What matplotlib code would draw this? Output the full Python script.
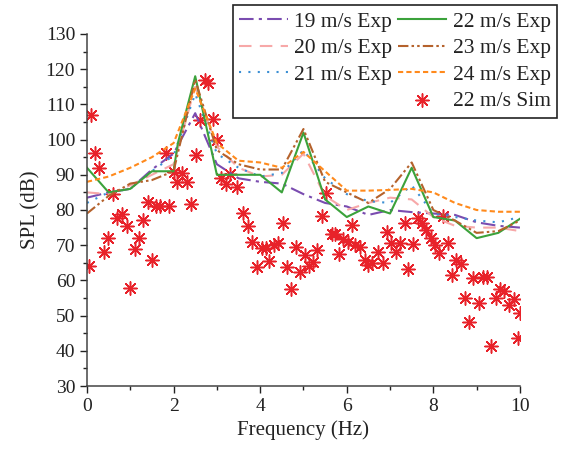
import matplotlib
matplotlib.use("Agg")
import matplotlib.pyplot as plt
from matplotlib.lines import Line2D
from matplotlib.ticker import MultipleLocator

plt.rcParams['font.family'] = ['Liberation Serif', 'DejaVu Serif']

freq = [0, 0.5, 1, 1.5, 2, 2.5, 3, 3.5, 4, 4.5, 5, 5.5, 6, 6.5, 7, 7.5, 8, 8.5, 9, 9.5, 10]

spl_19 = [83.5, 85, 86, 91.5, 96, 107.5, 93, 89, 88, 87.5, 84.5, 82, 81, 78.6, 80, 79.4, 79, 78.6, 76.5, 75.5, 75]
spl_20 = [85, 84.5, 87, 90, 93, 115, 98, 92, 89.5, 90, 96, 84, 80, 82, 83.5, 83, 78, 75.5, 75, 75, 74]
spl_21 = [82, 85, 86, 91, 95.5, 113, 96, 92, 89.5, 90.5, 97, 89, 84.5, 82.5, 82, 87, 79, 78, 77, 76.5, 78]
freq_22 = [0, 0.5, 1, 1.5, 2, 2.1, 2.5, 3, 3.5, 4, 4.5, 5, 5.5, 6, 6.5, 7, 7.5, 8, 8.5, 9, 9.5, 10]
spl_22 = [92, 85, 86, 91, 91, 99, 118, 90, 90, 90, 85, 102, 83, 78, 81, 79, 92, 78, 77, 72, 73.5, 77.5]
spl_23 = [79, 84, 87.5, 88.5, 91, 117, 97, 93, 91.5, 91.5, 103, 88, 85, 82, 86, 93.5, 80, 77, 73.5, 74, 77]
spl_24 = [88, 89.5, 92, 95, 99, 114.5, 99, 94, 93.5, 92, 96.5, 91, 85.5, 85.5, 85.7, 86, 85, 82, 80, 79.5, 79.5]

sim_freq = [0.05, 0.1, 0.18, 0.28, 0.39, 0.49, 0.6, 0.69, 0.8, 0.92, 0.99, 1.11, 1.2, 1.3, 1.4, 1.5,
            1.6, 1.69, 1.82, 1.9, 2.0, 2.08, 2.2, 2.3, 2.4, 2.52, 2.6, 2.72, 2.8, 2.9, 3.0, 3.1,
            3.2, 3.3, 3.46, 3.6, 3.72, 3.81, 3.92, 4.04, 4.13, 4.2, 4.32, 4.41, 4.53, 4.62, 4.71,
            4.83, 4.92, 5.03, 5.13, 5.22, 5.31, 5.43, 5.52, 5.65, 5.73, 5.82, 5.92, 6.02, 6.12,
            6.19, 6.3, 6.42, 6.5, 6.58, 6.72, 6.84, 6.93, 7.02, 7.13, 7.23, 7.34, 7.41, 7.53,
            7.64, 7.74, 7.83, 7.94, 8.04, 8.13, 8.22, 8.34, 8.43, 8.52, 8.64, 8.73, 8.82, 8.92,
            9.05, 9.14, 9.24, 9.33, 9.44, 9.54, 9.63, 9.75, 9.86, 9.95, 10.0]
sim_spl = [64, 107, 96.2, 92, 68, 72, 84.5, 77.7, 79, 75.5, 57.8, 69, 72, 77.2, 82.3, 65.8,
           81, 81, 96.2, 81.1, 90.8, 88, 90.5, 88, 81.7, 95.6, 105.6, 117, 116, 105.8, 99.8, 89,
           87.5, 90.2, 86.5, 79.1, 75.5, 71, 63.9, 69.2, 69.2, 65.5, 70, 70.6, 76.3, 63.9, 57.5,
           69.5, 62.4, 67.2, 64.2, 65.2, 68.6, 78.3, 84.8, 73.2, 73.2, 67.5, 71.8, 70.9, 75.7,
           70, 69.5, 65.8, 64.4, 64.9, 68, 65, 73.7, 70.6, 68, 70.6, 76.3, 63.2, 70.3,
           77.7, 76.3, 74.3, 72, 70, 67.8, 78.3, 70.6, 61.5, 65.8, 64.7, 55, 48.2, 60.7,
           53.6, 61, 61, 41.4, 55, 57.6, 57, 53, 54.7, 43.6, 50.7]

fig = plt.figure(figsize=(5.63, 4.59), dpi=100)
ax = fig.add_axes([0.1545, 0.159, 0.769, 0.767])

lw = 1.5
h19, = ax.plot(freq, spl_19, color='#7a4cb0', lw=lw, dashes=(7, 2.5, 1.5, 2.5), label='19 m/s Exp')
h20, = ax.plot(freq, spl_20, color='#f7a8a8', lw=lw, dashes=(6, 4), label='20 m/s Exp')
h21, = ax.plot(freq, spl_21, color='#3b8fd4', lw=lw, dashes=(1, 3.5), label='21 m/s Exp')
h22, = ax.plot(freq_22, spl_22, color='#3ba23b', lw=lw, label='22 m/s Exp')
h23, = ax.plot(freq, spl_23, color='#b5622c', lw=lw, dashes=(5, 1.5, 1.2, 1.5, 1.2, 1.5), label='23 m/s Exp')
h24, = ax.plot(freq, spl_24, color='#ff8a1c', lw=lw, dashes=(2.5, 1.5), label='24 m/s Exp')
hs = ax.scatter(sim_freq, sim_spl, marker=(8, 2, 0), s=90, color='#e8222a', linewidths=1.1,
                label='22 m/s Sim', zorder=1)

ax.set_xlim(0, 10)
ax.set_ylim(30, 130)
ax.xaxis.set_major_locator(MultipleLocator(2))
ax.xaxis.set_minor_locator(MultipleLocator(1))
ax.yaxis.set_major_locator(MultipleLocator(10))
ax.yaxis.set_minor_locator(MultipleLocator(5))
ax.tick_params(which='major', direction='out', length=5, width=1, labelsize=14, colors='#222222')
ax.tick_params(which='minor', direction='out', length=3, width=1, colors='#222222')
ax.spines['top'].set_visible(False)
ax.spines['right'].set_visible(False)
for s in ('left', 'bottom'):
    ax.spines[s].set_color('#444444')
    ax.spines[s].set_linewidth(1.1)

ax.set_xlabel('Frequency (Hz)', fontsize=15, color='#222222', labelpad=4)
ax.set_ylabel('SPL (dB)', fontsize=15, color='#222222', labelpad=4)

blank = Line2D([], [], alpha=0, label=' ')
handles = [h19, h20, h21, blank, h22, h23, h24, hs]
labels = ['19 m/s Exp', '20 m/s Exp', '21 m/s Exp', '', '22 m/s Exp', '23 m/s Exp', '24 m/s Exp', '22 m/s Sim']
leg = ax.legend(handles, labels, ncol=2, loc='upper right',
                bbox_to_anchor=(557 / 563, 1 - 5 / 459), bbox_transform=fig.transFigure,
                borderaxespad=0, fontsize=15.5, handlelength=2.25, handletextpad=0.3,
                columnspacing=0.25, labelspacing=0.3, borderpad=0.3,
                fancybox=False, framealpha=1, edgecolor='#222222')
leg.get_frame().set_linewidth(1.2)
for t in leg.get_texts():
    t.set_color('#222222')

fig.savefig('out.png', dpi=100)
